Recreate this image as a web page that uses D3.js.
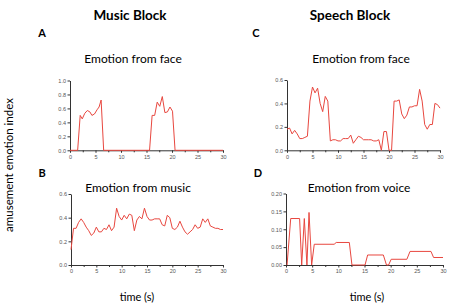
<!DOCTYPE html>
<html>
<head>
<meta charset="utf-8">
<script src="https://cdn.jsdelivr.net/npm/d3@7"></script>
<style>
    body { margin: 0; background: #fff; }
    text { font-family: Lato, "Open Sans", sans-serif; }
    .tick text { font-family: "Liberation Sans", Arial, sans-serif; fill: #555; }
</style>
</head>
<body>
<script>
// amusement index traces

const musicFaceT = [0, 1.5, 2.0, 2.4, 2.9, 3.4, 3.9, 4.3, 4.8, 5.3, 5.7, 6.1, 6.6, 15.6, 16.1, 16.6, 17.1, 17.6, 18.1, 18.6, 19.1, 19.6, 20.1, 20.6, 30]
const musicFaceV = [0, 0, 0.50, 0.45, 0.53, 0.57, 0.55, 0.50, 0.52, 0.58, 0.62, 0.72, 0, 0, 0.50, 0.50, 0.69, 0.63, 0.77, 0.54, 0.55, 0.62, 0.56, 0, 0]

// music + speech-face are sampled every 0.5 s
const halfSecT = d3.range(0, 30.01, 0.5)
const musicMusicV = [0.13, 0.31, 0.31, 0.36, 0.39, 0.36, 0.32, 0.29, 0.25, 0.27, 0.32, 0.28, 0.28, 0.31, 0.30, 0.34, 0.29, 0.32, 0.48, 0.41,
    0.38, 0.42, 0.39, 0.43, 0.42, 0.29, 0.38, 0.41, 0.39, 0.48, 0.41, 0.38, 0.38, 0.39, 0.39, 0.39, 0.34, 0.33, 0.42, 0.40,
    0.31, 0.30, 0.32, 0.37, 0.32, 0.28, 0.26, 0.28, 0.30, 0.34, 0.31, 0.32, 0.39, 0.36, 0.39, 0.33, 0.32, 0.31, 0.31, 0.30, 0.30]
const speechFaceV = [0.18, 0.19, 0.14, 0.17, 0.14, 0.10, 0.10, 0.11, 0.12, 0.42, 0.54, 0.49, 0.53, 0.40, 0.33, 0.46, 0.42, 0.08, 0.09, 0.09,
    0.08, 0.08, 0.10, 0.10, 0.10, 0.13, 0.06, 0.09, 0.12, 0.11, 0.09, 0.09, 0.09, 0.09, 0.08, 0.08, 0.09, 0.00, 0.16, 0.16,
    0.00, 0.00, 0.42, 0.42, 0.43, 0.31, 0.27, 0.30, 0.37, 0.37, 0.38, 0.38, 0.52, 0.42, 0.22, 0.18, 0.22, 0.22, 0.40, 0.39, 0.36]

const speechVoiceT = [0.2, 0.9, 2.6, 3.0, 3.5, 4.0, 4.4, 4.9, 5.4, 9.2, 9.6, 12.1, 12.6, 15.1, 15.6, 18.6, 19.2, 19.6, 20.1, 23.1, 23.7, 27.7, 28.2, 30]
const speechVoiceV = [0, 0.13, 0.13, 0, 0.13, 0, 0.147, 0, 0.058, 0.058, 0.063, 0.063, 0, 0, 0.028, 0.028, 0, 0, 0.016, 0.016, 0.038, 0.038, 0.021, 0.021]

const xTicks = [0, 5, 10, 15, 20, 25, 30]

const panels = [
    { letter: "A", title: "Emotion from face", t: musicFaceT, v: musicFaceV, yMax: 1.0, yTicks: [0, 0.2, 0.4, 0.6, 0.8, 1.0], fmt: ".1f",
      box: [70, 223, 80.5, 150.3], letterX: 42, letterY: 37, titleX: 133, titleY: 63 },
    { letter: "B", title: "Emotion from music", t: halfSecT, v: musicMusicV, yMax: 0.6, yTicks: [0, 0.2, 0.4, 0.6], fmt: ".1f",
      box: [71, 223, 194, 265], letterX: 42, letterY: 177, titleX: 138, titleY: 192 },
    { letter: "C", title: "Emotion from face", t: halfSecT, v: speechFaceV, yMax: 0.6, yTicks: [0, 0.2, 0.4, 0.6], fmt: ".1f",
      box: [287, 440, 80, 150.3], letterX: 256, letterY: 37, titleX: 361, titleY: 63 },
    { letter: "D", title: "Emotion from voice", t: speechVoiceT, v: speechVoiceV, yMax: 0.2, yTicks: [0, 0.05, 0.10, 0.15, 0.20], fmt: ".2f",
      box: [286, 443, 193.5, 265], letterX: 258, letterY: 177, titleX: 359, titleY: 192 }
]

const width = 457, height = 307
const red = "#e8473f"

const svg = d3.select("body").append("svg")
    .attr("width", width)
    .attr("height", height)

svg.append("text").attr("x", 130).attr("y", 20).attr("text-anchor", "middle")
    .style("font-size", "13.5px").style("font-weight", "bold").text("Music Block")
svg.append("text").attr("x", 350).attr("y", 20).attr("text-anchor", "middle")
    .style("font-size", "13.5px").style("font-weight", "bold").text("Speech Block")

svg.append("text")
    .attr("transform", "translate(13,165) rotate(-90)")
    .attr("text-anchor", "middle")
    .style("font-size", "11.5px")
    .text("amusement emotion index")

svg.append("text").attr("x", 137).attr("y", 301).attr("text-anchor", "middle").style("font-size", "11px").text("time (s)")
svg.append("text").attr("x", 367).attr("y", 301).attr("text-anchor", "middle").style("font-size", "11px").text("time (s)")

panels.forEach((p) => {
    const [x0, x1, yTop, yBot] = p.box
    const x = d3.scaleLinear().domain([0, 30]).range([x0, x1])
    const y = d3.scaleLinear().domain([0, p.yMax]).range([yBot, yTop])

    svg.append("text").attr("x", p.letterX).attr("y", p.letterY)
        .attr("text-anchor", "middle")
        .style("font-size", "11px").style("font-weight", "bold").text(p.letter)

    svg.append("text").attr("x", p.titleX).attr("y", p.titleY).attr("text-anchor", "middle")
        .style("font-size", "12px").text(p.title)

    // minor x ticks
    svg.append("g")
        .attr("transform", `translate(0,${yBot})`)
        .call(d3.axisBottom(x).tickValues(d3.range(2.5, 30, 5)).tickSize(2).tickFormat(""))
        .call(g => g.select(".domain").remove())
        .selectAll("line").attr("stroke", "#333")

    const xAxis = svg.append("g")
        .attr("transform", `translate(0,${yBot})`)
        .call(d3.axisBottom(x).tickValues(xTicks).tickSize(2.5).tickPadding(2).tickSizeOuter(0))
    xAxis.selectAll("text").style("font-size", "5.5px")

    const yAxis = svg.append("g")
        .attr("transform", `translate(${x0},0)`)
        .call(d3.axisLeft(y).tickValues(p.yTicks).tickFormat(d3.format(p.fmt)).tickSize(2.5).tickPadding(1.5).tickSizeOuter(0))
    yAxis.selectAll("text").style("font-size", "5.5px")

    svg.selectAll(".domain").attr("stroke", "#333")
    svg.selectAll(".tick line").attr("stroke", "#333")

    const line = d3.line()
        .x((d, i) => x(p.t[i]))
        .y((d) => y(d))

    svg.append("path")
        .datum(p.v)
        .attr("fill", "none")
        .attr("stroke", red)
        .attr("stroke-width", 1)
        .attr("d", line)
})
</script>
</body>
</html>
